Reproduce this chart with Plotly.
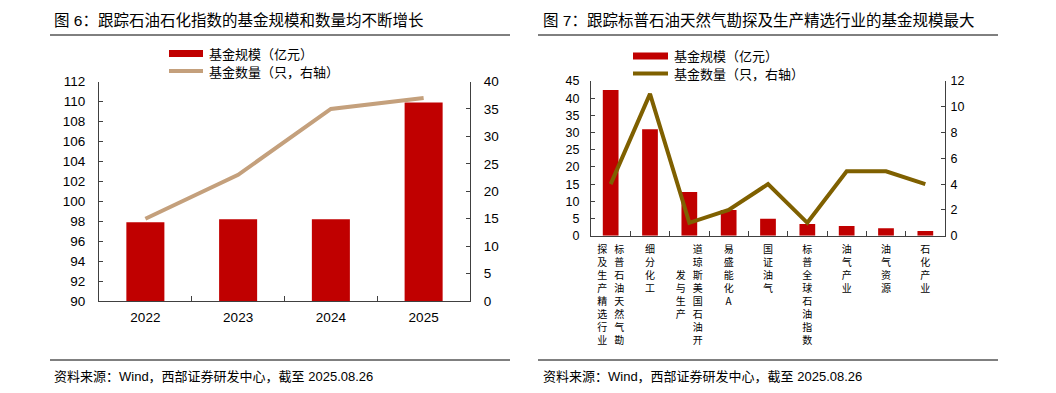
import plotly.graph_objects as go

# ---------------- data ----------------
years = ["2022", "2023", "2024", "2025"]
left_scale = [97.9, 98.2, 98.2, 109.9]      # 基金规模（亿元）
left_count = [15, 23, 35, 37]               # 基金数量（只，右轴）

right_categories = [
    "标普石油天然气勘探及生产精选行业", "细分化工", "道琼斯美国石油开发与生产",
    "易盛能化A", "国证油气", "标普全球石油指数", "油气产业", "油气资源", "石化产业",
]
right_label_columns = [
    ["探及生产精选行业", "标普石油天然气勘"],
    ["细分化工"],
    ["发与生产", "道琼斯美国石油开"],
    ["易盛能化A"],
    ["国证油气"],
    ["标普全球石油指数"],
    ["油气产业"],
    ["油气资源"],
    ["石化产业"],
]
right_scale = [42.4, 31.0, 12.7, 7.5, 4.9, 3.4, 2.8, 2.2, 1.4]
right_count = [4, 11, 1, 2, 4, 1, 5, 5, 4]

left_title = "图 6：跟踪石油石化指数的基金规模和数量均不断增长"
right_title = "图 7：跟踪标普石油天然气勘探及生产精选行业的基金规模最大"
source_text = "资料来源：Wind，西部证券研发中心，截至 2025.08.26"
bar_name = "基金规模（亿元）"
line_name = "基金数量（只，右轴）"

# ---------------- styling ----------------
W, H = 1056, 393
MT, MB = 8, 8
RED = "#C00000"
TAN = "#C4A07C"
OLIVE = "#7F6000"
AXIS = "#404040"
FONT = "Liberation Sans, Noto Sans CJK SC, sans-serif"
CJK = "Noto Sans CJK SC, sans-serif"


def X(px):
    return px / W


def Y(py):
    return 1 - (py - MT) / (H - MT - MB)


def vertical_label(cols):
    n = max(len(c) for c in cols)
    rows = []
    for i in range(n):
        chars = []
        for c in cols:
            off = (n - len(c)) // 2
            j = i - off
            chars.append(c[j] if 0 <= j < len(c) else "\u3000")
        rows.append("\u2002\u2009".join(chars))
    return "<br>".join(rows)


right_ticktext = [vertical_label(c) for c in right_label_columns]

fig = go.Figure()
fig.add_trace(go.Bar(x=years, y=left_scale, xaxis="x", yaxis="y",
                     marker=dict(color=RED, line=dict(width=0)), width=0.41,
                     showlegend=False, name=bar_name))
fig.add_trace(go.Scatter(x=years, y=left_count, xaxis="x", yaxis="y2", mode="lines",
                         line=dict(color=TAN, width=4), showlegend=False, name=line_name))
fig.add_trace(go.Bar(x=right_categories, y=right_scale, xaxis="x2", yaxis="y3",
                     marker=dict(color=RED, line=dict(width=0)), width=0.4,
                     showlegend=False, name=bar_name))
fig.add_trace(go.Scatter(x=right_categories, y=right_count, xaxis="x2", yaxis="y4", mode="lines",
                         line=dict(color=OLIVE, width=4), showlegend=False, name=line_name))

common_axis = dict(showline=True, linecolor=AXIS, linewidth=1, showgrid=False, zeroline=False,
                   ticks="inside", tickcolor=AXIS, tickwidth=1, ticklen=4,
                   tickfont=dict(family=FONT, size=13.5, color="black"))

fig.update_layout(
    width=W, height=H, autosize=False,
    margin=dict(l=0, r=0, t=MT, b=MB),
    paper_bgcolor="white", plot_bgcolor="white",
    barmode="overlay",
    font=dict(family=FONT, color="black"),
    xaxis=dict(common_axis, domain=[X(99), X(470)], anchor="y", type="category",
               tickson="boundaries", ticklen=5, ticklabelstandoff=4),
    yaxis=dict(common_axis, domain=[Y(301), Y(81.5)], anchor="x", range=[90, 112], dtick=2,
               ticklabelstandoff=10),
    yaxis2=dict(common_axis, overlaying="y", side="right", anchor="x", range=[0, 40], dtick=5,
                ticklabelstandoff=10),
    xaxis2=dict(common_axis, domain=[X(591), X(945)], anchor="y3", type="category",
                tickson="boundaries", ticklen=5, tickvals=right_categories, ticktext=right_ticktext,
                tickangle=0, ticklabelstandoff=4,
                tickfont=dict(family=CJK, size=10, color="black")),
    yaxis3=dict(common_axis, domain=[Y(235.7), Y(81)], anchor="x2", range=[0, 45], dtick=5,
                tickfont=dict(family=FONT, size=12.5, color="black"), ticklabelstandoff=8),
    yaxis4=dict(common_axis, overlaying="y3", side="right", anchor="x2", range=[0, 12], dtick=2,
                tickfont=dict(family=FONT, size=12.5, color="black"), ticklabelstandoff=2),
)

shapes = []
annotations = []

# titles, separators, source
for x0, x1, tx, title in [(50, 510, 52, left_title), (538, 998, 541, right_title)]:
    shapes.append(dict(type="line", xref="paper", yref="paper", x0=X(x0), x1=X(x1),
                       y0=Y(35), y1=Y(35), line=dict(color="black", width=1)))
    shapes.append(dict(type="line", xref="paper", yref="paper", x0=X(x0), x1=X(x1),
                       y0=Y(360), y1=Y(360), line=dict(color="black", width=1)))
    annotations.append(dict(xref="paper", yref="paper", x=X(tx), y=Y(20), xanchor="left",
                            yanchor="middle", showarrow=False, text=title,
                            font=dict(family=FONT, size=15.5, color="black")))
    annotations.append(dict(xref="paper", yref="paper", x=X(tx), y=Y(376), xanchor="left",
                            yanchor="middle", showarrow=False, text=source_text,
                            font=dict(family=FONT, size=13, color="black")))

# legends
for sx0, sx1, yb, yl, lcolor in [(169, 203, 53.5, 71, TAN), (633, 668, 56, 73.5, OLIVE)]:
    shapes.append(dict(type="rect", xref="paper", yref="paper", x0=X(sx0), x1=X(sx1),
                       y0=Y(yb + 3.5), y1=Y(yb - 3.5), fillcolor=RED, line=dict(width=0)))
    shapes.append(dict(type="line", xref="paper", yref="paper", x0=X(sx0), x1=X(sx1),
                       y0=Y(yl), y1=Y(yl), line=dict(color=lcolor, width=4)))
    annotations.append(dict(xref="paper", yref="paper", x=X(sx1 + 4), y=Y(yb), xanchor="left",
                            yanchor="middle", showarrow=False, text=bar_name,
                            font=dict(family=CJK, size=13, color="black")))
    annotations.append(dict(xref="paper", yref="paper", x=X(sx1 + 4), y=Y(yl), xanchor="left",
                            yanchor="middle", showarrow=False, text=line_name,
                            font=dict(family=CJK, size=13, color="black")))

fig.update_layout(shapes=shapes, annotations=annotations)
fig.write_html("out.html", config={"displayModeBar": False},
               post_script="document.body.style.margin='0';document.body.style.overflow='hidden';")
